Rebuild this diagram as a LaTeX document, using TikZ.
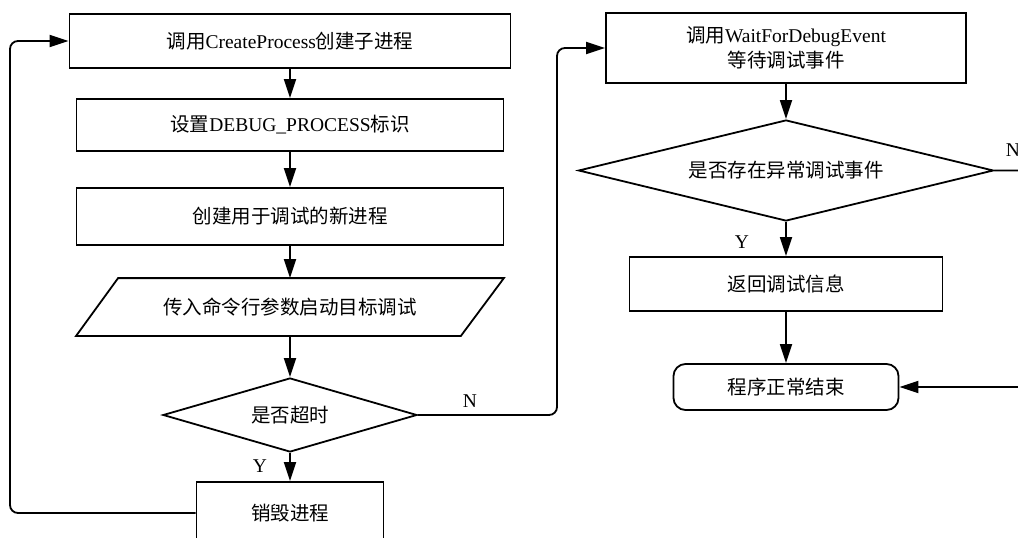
\documentclass[tikz,border=0pt]{standalone}
\usepackage{fontspec}
\setmainfont{Liberation Serif}
\newfontfamily\cjk{Noto Sans CJK SC}
\usetikzlibrary{shapes.geometric,arrows.meta,calc}
\newcommand\zh[1]{{\cjk #1}}
\begin{document}
\begin{tikzpicture}[x=1pt,y=-1pt,
  font=\fontsize{19.5}{26}\selectfont,
  line width=1.8pt,
  box/.style={draw, rectangle, inner sep=0pt, align=center},
  dia/.style={draw, diamond, inner sep=0pt},
  arr/.style={-{Triangle[length=19pt,width=12pt]}},
  lbl/.style={inner sep=0pt}]
\useasboundingbox (0,0) rectangle (1018,538);
\clip (0,0) rectangle (1018,538);
% left column
\node[box, minimum width=441, minimum height=54] (b1) at (290,41) {\zh{调用}CreateProcess\zh{创建子进程}};
\node[box, minimum width=427, minimum height=52] (b2) at (290,125) {\zh{设置}DEBUG\_PROCESS\zh{标识}};
\node[box, minimum width=427, minimum height=57] (b3) at (290,216.5) {\zh{创建用于调试的新进程}};
\node[inner sep=0pt, minimum width=426, minimum height=56] (p) at (290,307) {\zh{传入命令行参数启动目标调试}};
\draw ($(p.north west)+(42,0)$) -- (p.north east) -- ($(p.south east)+(-43,0)$) -- (p.south west) -- cycle;
\node[dia, shape aspect=3.4, minimum width=254, minimum height=74] (d1) at (290,415) {\zh{是否超时}};
\node[box, minimum width=187, minimum height=62] (b5) at (290,513) {\zh{销毁进程}};
% right column
\node[box, minimum width=360, minimum height=70] (b6) at (786,48) {\zh{调用}WaitForDebugEvent\\[-1pt]\zh{等待调试事件}};
\node[dia, shape aspect=4.1, minimum width=415, minimum height=101] (d2) at (786,170.5) {\zh{是否存在异常调试事件}};
\node[box, minimum width=313, minimum height=54] (b7) at (786,284) {\zh{返回调试信息}};
\node[box, rounded corners=12pt, minimum width=225, minimum height=46] (t) at (786,387) {\zh{程序正常结束}};
% connectors
\draw[arr] (b1) -- (b2);
\draw[arr] (b2) -- (b3);
\draw[arr] (b3) -- (p);
\draw[arr] (p) -- (d1);
\draw[arr] (d1) -- (b5);
\coordinate (lx) at (10,41);
\draw[arr, rounded corners=8pt] (b5.west) -| (lx) -- (b1.west);
\coordinate (nx) at (557,48);
\draw[arr, rounded corners=8pt] (d1.east) -| (nx) -- (b6.west);
\draw[arr] (b6) -- (d2);
\draw[arr] (d2) -- (b7);
\draw[arr] (b7) -- (t);
\coordinate (rx) at (1030,170.5);
\draw[arr, rounded corners=8pt] (d2.east) -- (rx) |- (t.east);
% labels
\node[lbl] (ln1) at (470,401) {N};
\node[lbl] (ly1) at (260,466) {Y};
\node[lbl] (ly2) at (742,242) {Y};
\node[lbl] (ln2) at (1013,150) {N};
\end{tikzpicture}
\end{document}
